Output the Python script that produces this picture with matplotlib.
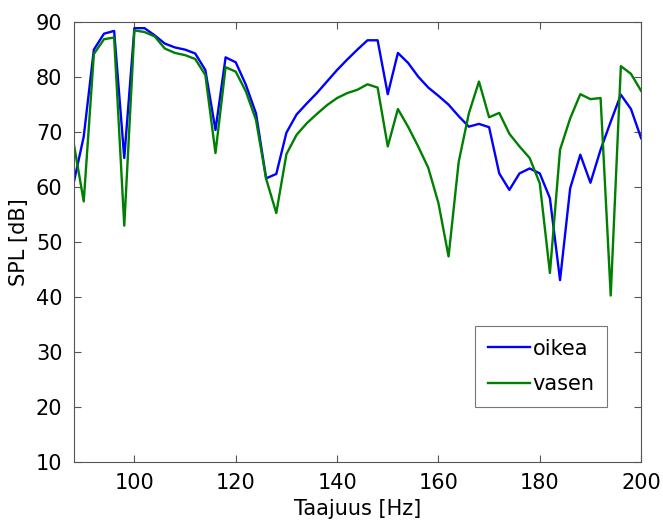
import numpy as np
import matplotlib
matplotlib.use("Agg")
import matplotlib.pyplot as plt

# Frequency points (Hz), 2 Hz steps
freq = list(range(88, 201, 2))

# Right channel SPL (dB)
oikea = [60.7, 69.2, 85.0, 87.9, 88.4, 65.3, 88.9, 88.9, 87.6, 86.1,
         85.4, 85.0, 84.3, 81.3, 70.4, 83.6, 82.7, 78.6, 73.4, 61.6,
         62.4, 69.9, 73.2, 75.2, 77.1, 79.2, 81.3, 83.2, 85.0, 86.7,
         86.7, 76.9, 84.4, 82.6, 80.1, 78.1, 76.6, 75.0, 72.9, 71.0,
         71.5, 70.9, 62.5, 59.5, 62.5, 63.4, 62.5, 58.0, 43.1, 59.8,
         65.9, 60.8, 66.8, 71.9, 76.8, 74.2, 68.9]

# Left channel SPL (dB)
vasen = [68.1, 57.4, 84.2, 86.9, 87.2, 53.0, 88.5, 88.2, 87.4, 85.2,
         84.4, 84.0, 83.3, 80.4, 66.2, 81.8, 81.0, 77.4, 72.2, 61.5,
         55.3, 66.0, 69.5, 71.6, 73.3, 74.9, 76.2, 77.1, 77.7, 78.7,
         78.1, 67.4, 74.2, 71.0, 67.4, 63.5, 57.1, 47.4, 64.6, 73.4,
         79.2, 72.7, 73.5, 69.7, 67.4, 65.3, 60.7, 44.4, 66.8, 72.5,
         76.9, 76.0, 76.2, 40.3, 82.0, 80.6, 77.5]

x_ticks = [100, 120, 140, 160, 180, 200]
y_ticks = [10, 20, 30, 40, 50, 60, 70, 80, 90]

plt.rcParams['font.family'] = ['DejaVu Sans']

fig = plt.figure(figsize=(6.63, 5.27), dpi=100)
ax = fig.add_axes([0.111, 0.123, 0.856, 0.835])

ax.plot(freq, oikea, color=(0, 0, 1), lw=1.7, label='oikea')
ax.plot(freq, vasen, color=(0, 0.5, 0), lw=1.7, label='vasen')

ax.set_xlim(88, 200)
ax.set_ylim(10, 90)
ax.set_xticks(x_ticks)
ax.set_yticks(y_ticks)
ax.tick_params(direction='in', top=True, right=True, labelsize=15,
               length=5, color='#555555', pad=8)
for sp in ax.spines.values():
    sp.set_color('#555555')
    sp.set_linewidth(0.8)

ax.set_xlabel('Taajuus [Hz]', fontsize=15, labelpad=4)
ax.set_ylabel('SPL [dB]', fontsize=15, labelpad=5)

leg = ax.legend(loc='upper left', bbox_to_anchor=(0.708, 0.309), fontsize=15,
                fancybox=False, framealpha=1, edgecolor='#777777',
                handlelength=2.0, handletextpad=0.15, borderpad=0.6,
                labelspacing=0.75, borderaxespad=0)
leg.get_frame().set_linewidth(0.8)

fig.savefig('out.png', dpi=100)
